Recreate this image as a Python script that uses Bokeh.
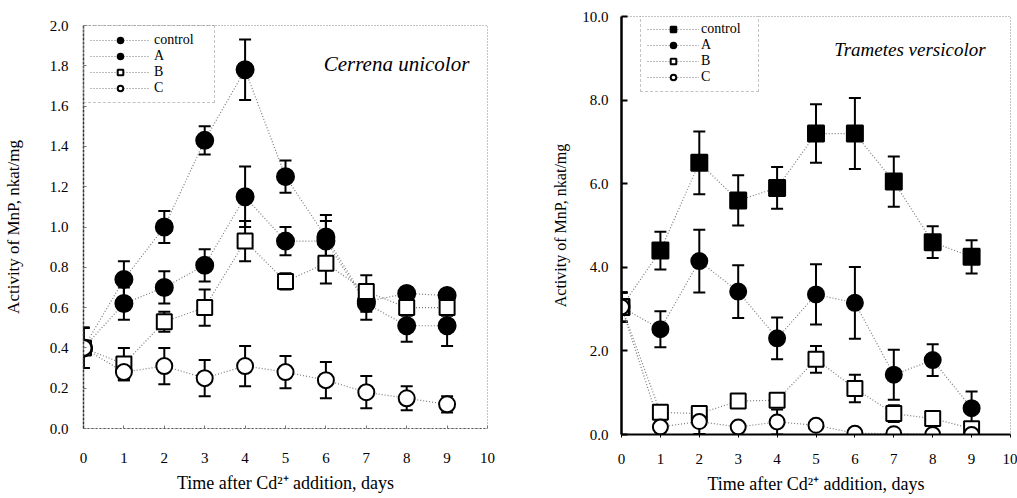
from bokeh.plotting import figure
from bokeh.models import (ColumnDataSource, Whisker, TeeHead, Legend, LegendItem,
                          Label, Range1d, FixedTicker, PrintfTickFormatter)
from bokeh.layouts import row
from bokeh.embed import file_html
from bokeh.resources import INLINE

# ---------------- data ----------------
days = [0, 1, 2, 3, 4, 5, 6, 7, 8, 9]
series_names = ["control", "A", "B", "C"]

# Cerrena unicolor (left)
cu_control = [0.40, 0.74, 1.00, 1.43, 1.78, 1.25, 0.95, 0.63, 0.67, 0.66]
cu_control_err = [0.10, 0.09, 0.08, 0.07, 0.15, 0.08, 0.11, 0.05, 0.03, 0.03]
cu_A = [0.40, 0.62, 0.70, 0.81, 1.15, 0.93, 0.93, 0.62, 0.51, 0.51]
cu_A_err = [0.10, 0.08, 0.08, 0.08, 0.15, 0.07, 0.10, 0.08, 0.08, 0.10]
cu_B = [0.40, 0.32, 0.53, 0.60, 0.93, 0.73, 0.82, 0.68, 0.60, 0.60]
cu_B_err = [0.10, 0.08, 0.05, 0.09, 0.10, 0.04, 0.10, 0.08, 0.04, 0.04]
cu_C = [0.40, 0.28, 0.31, 0.25, 0.31, 0.28, 0.24, 0.18, 0.15, 0.12]
cu_C_err = [0.10, 0.04, 0.09, 0.09, 0.10, 0.08, 0.09, 0.08, 0.06, 0.04]

# Trametes versicolor (right)
tv_control = [3.05, 4.40, 6.50, 5.60, 5.90, 7.20, 7.20, 6.05, 4.60, 4.25]
tv_control_err = [0.35, 0.45, 0.75, 0.60, 0.50, 0.70, 0.85, 0.60, 0.38, 0.40]
tv_A = [3.05, 2.52, 4.15, 3.42, 2.30, 3.35, 3.15, 1.43, 1.78, 0.63]
tv_A_err = [0.35, 0.43, 0.75, 0.63, 0.50, 0.72, 0.86, 0.60, 0.38, 0.40]
tv_B = [3.05, 0.53, 0.50, 0.80, 0.82, 1.80, 1.10, 0.50, 0.38, 0.14]
tv_B_err = [0.35, 0.10, 0.10, 0.10, 0.10, 0.32, 0.33, 0.20, 0.10, 0.05]
tv_C = [3.05, 0.18, 0.31, 0.18, 0.30, 0.22, 0.03, 0.02, 0.00, 0.00]
tv_C_err = [0.35, 0.10, 0.30, 0.10, 0.30, 0.10, 0.02, 0.02, 0.02, 0.02]

x_ticks = [0, 1, 2, 3, 4, 5, 6, 7, 8, 9, 10]
cu_y_ticks = [0.0, 0.2, 0.4, 0.6, 0.8, 1.0, 1.2, 1.4, 1.6, 1.8, 2.0]
tv_y_ticks = [0.0, 2.0, 4.0, 6.0, 8.0, 10.0]

FONT = "Liberation Serif"
XLABEL = "Time after Cd\u00b2\u207a addition, days"
YLABEL = "Activity of MnP, nkat/mg"


def build(title, data, y_max, y_ticks, markers, sizes, width, height, borders,
          legend_cfg, title_pos, title_size, right_style):
    bl, br, bt, bb = borders
    p = figure(width=width, height=height, output_backend="svg", toolbar_location=None,
               x_range=Range1d(0, 10), y_range=Range1d(0, y_max),
               min_border_left=bl, min_border_right=br, min_border_top=bt,
               min_border_bottom=bb, frame_align=False)
    p.xgrid.visible = False
    p.ygrid.visible = False
    p.outline_line_color = "#888888"
    p.outline_line_dash = "1 2"
    p.outline_line_width = 1

    p.xaxis.ticker = FixedTicker(ticks=x_ticks)
    p.yaxis.ticker = FixedTicker(ticks=y_ticks)
    p.yaxis.formatter = PrintfTickFormatter(format="%.1f")
    p.xaxis.axis_label = XLABEL
    p.yaxis.axis_label = YLABEL
    for ax in (p.xaxis[0], p.yaxis[0]):
        ax.major_label_text_font = FONT
        ax.major_label_text_font_size = "15px"
        ax.major_label_text_color = "black"
        ax.axis_label_text_font = FONT
        ax.axis_label_text_font_style = "normal"
        ax.axis_label_text_color = "black"
        ax.minor_tick_line_color = None
        ax.major_tick_out = 0
    if right_style:
        p.xaxis.axis_label_text_font_size = "18px"
        p.yaxis.axis_label_text_font_size = "16px"
        p.yaxis.axis_line_width = 2.5
        p.yaxis.axis_line_color = "black"
        p.xaxis.axis_line_width = 2
        p.xaxis.axis_line_color = "black"
        p.yaxis.major_tick_in = 6
        p.yaxis.major_tick_line_width = 2
        p.xaxis.major_tick_in = 0
        p.xaxis.major_tick_out = 3
        p.xaxis.major_label_standoff = 16
        p.yaxis.major_label_standoff = 13
        p.yaxis.axis_label_standoff = 10
        p.xaxis.axis_label_standoff = 7
    else:
        p.xaxis.axis_label_text_font_size = "18px"
        p.yaxis.axis_label_text_font_size = "17px"
        p.yaxis.axis_line_dash = "3 1"
        p.yaxis.axis_line_color = "#333333"
        p.yaxis.axis_line_width = 1.5
        p.xaxis.axis_line_dash = "2 2"
        p.xaxis.axis_line_color = "#555555"
        p.yaxis.major_tick_in = 3
        p.xaxis.major_tick_in = 3
        p.yaxis.major_tick_line_color = "#777777"
        p.xaxis.major_tick_line_color = "#777777"
        p.xaxis.major_label_standoff = 24
        p.yaxis.major_label_standoff = 15
        p.yaxis.axis_label_standoff = 24
        p.xaxis.axis_label_standoff = 7

    items = []
    line_rs = []
    for name, (vals, errs) in zip(series_names, data):
        src = ColumnDataSource(dict(
            x=days, y=vals,
            upper=[v + e for v, e in zip(vals, errs)],
            lower=[v - e for v, e in zip(vals, errs)]))
        lr = p.line("x", "y", source=src, line_color="#7a7a7a", line_dash="1 2",
                    line_width=1.2)
        w = Whisker(source=src, base="x", upper="upper", lower="lower",
                    line_color="black", line_width=2,
                    upper_head=TeeHead(size=12, line_width=2, line_color="black"),
                    lower_head=TeeHead(size=12, line_width=2, line_color="black"),
                    level="underlay")
        p.add_layout(w)
        line_rs.append((name, lr, src))
    for (name, lr, src), mk, sz in zip(line_rs, markers, sizes):
        filled = mk[1]
        sr = p.scatter("x", "y", source=src, marker=mk[0], size=sz,
                       fill_color="black" if filled else "white",
                       line_color="black", line_width=2)
        items.append(LegendItem(label=name, renderers=[lr, sr]))

    lg = Legend(items=items, location=legend_cfg["loc"],
                padding=legend_cfg["padding"], spacing=0,
                glyph_width=legend_cfg["gw"], glyph_height=14,
                label_standoff=legend_cfg["standoff"], label_width=legend_cfg["lw"],
                label_height=12,
                label_text_font=FONT, label_text_font_size="14px",
                label_text_color="black", label_text_line_height=0.9,
                border_line_color="#888888", border_line_dash="1 2",
                border_line_width=1, background_fill_alpha=0.0)
    p.add_layout(lg)

    p.add_layout(Label(x=title_pos[0], y=title_pos[1], text=title,
                       text_font=FONT, text_font_style="italic",
                       text_font_size=title_size, text_align="right",
                       text_baseline="middle", text_color="black"))
    return p


left = build("Cerrena unicolor",
             [(cu_control, cu_control_err), (cu_A, cu_A_err),
              (cu_B, cu_B_err), (cu_C, cu_C_err)],
             2.0, cu_y_ticks,
             [("circle", True), ("circle", True), ("square", False), ("circle", False)],
             [17, 17, 15, 16],
             500, 498, (83, 13, 25, 70),
             dict(loc=(0, 325), padding=6, gw=60, standoff=4, lw=54),
             (9.55, 1.81), "21px", False)

right = build("Trametes versicolor",
              [(tv_control, tv_control_err), (tv_A, tv_A_err),
               (tv_B, tv_B_err), (tv_C, tv_C_err)],
              10.0, tv_y_ticks,
              [("square", True), ("circle", True), ("square", False), ("circle", False)],
              [16, 16, 15, 15],
              517, 498, (121, 7, 16, 64),
              dict(loc=(19, 342), padding=6, gw=52, standoff=2, lw=51),
              (9.36, 9.2), "19px", True)

layout = row(left, right)
open("out.html", "w").write(file_html(layout, INLINE))
